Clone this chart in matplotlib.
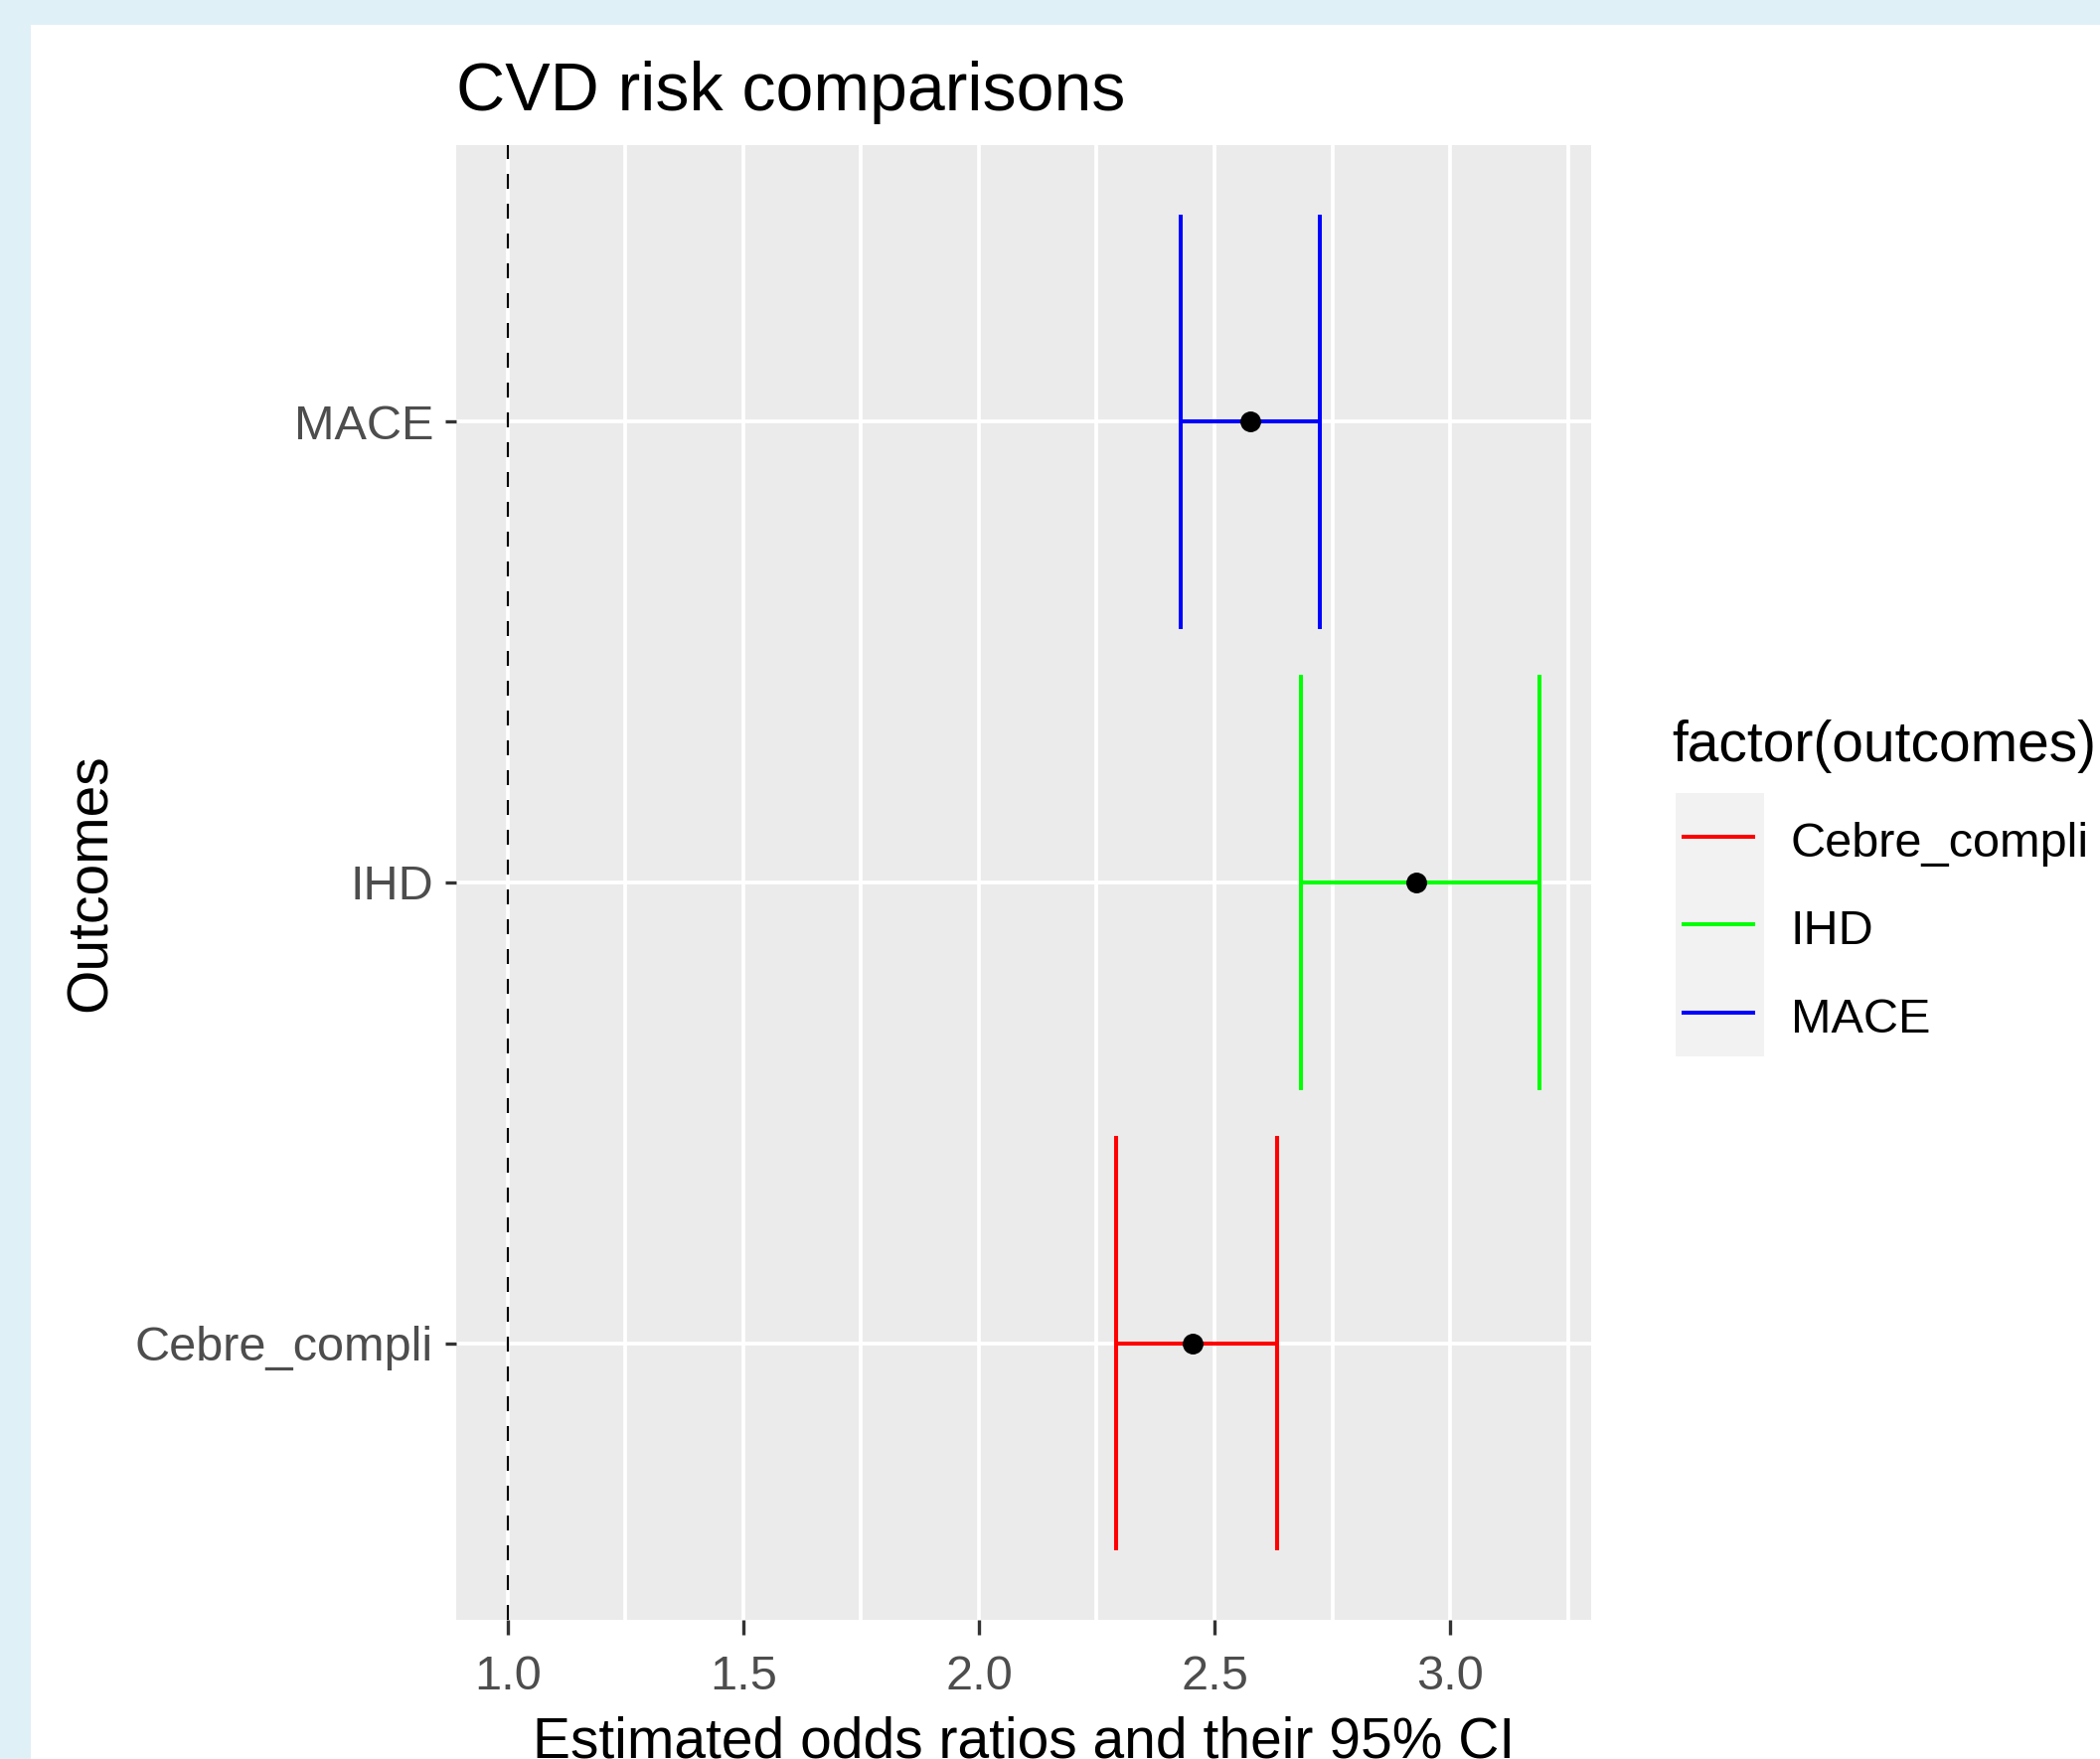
import matplotlib.pyplot as plt
from matplotlib.lines import Line2D
from matplotlib.patches import Rectangle
import numpy as np

# values
outcomes = ['Cebre_compli', 'IHD', 'MACE']
odds_ratio = [2.454, 2.928, 2.577]
ci_lower = [2.292, 2.683, 2.429]
ci_upper = [2.633, 3.190, 2.724]
outcome_colors = ['#FF0000', '#00FF00', '#0000FF']
x_ticks = [1.0, 1.5, 2.0, 2.5, 3.0]
x_tick_labels = ['1.0', '1.5', '2.0', '2.5', '3.0']

W, H = 2113, 1770
plt.rcParams['font.family'] = ['Liberation Sans', 'DejaVu Sans']


def fx(px):
    return px / W


def fy(py):
    return 1 - py / H


fig = plt.figure(figsize=(W / 100, H / 100), dpi=100, facecolor='#dff0f7')
fig.add_artist(Rectangle((fx(31), 0), 1 - fx(31), fy(25), transform=fig.transFigure,
                         facecolor='white', edgecolor='none', zorder=0))

ax = fig.add_axes([fx(459), fy(1630), fx(1601) - fx(459), fy(146) - fy(1630)])
ax.set_facecolor('#EBEBEB')
for s in ax.spines.values():
    s.set_visible(False)
ax.set_axisbelow(True)

# error bars, ggplot style (horizontal bar with tall end caps)
y = np.arange(1, len(outcomes) + 1)
half = 0.45
for yi, lo, hi, c in zip(y, ci_lower, ci_upper, outcome_colors):
    ax.hlines(yi, lo, hi, color=c, lw=2.9, zorder=3)
    ax.vlines([lo, hi], yi - half, yi + half, color=c, lw=2.9, zorder=3)
ax.plot(odds_ratio, y, 'o', color='black', ms=14, zorder=4)
ax.axvline(1.0, color='black', lw=1.6, dashes=(6.75, 6.75), zorder=2)

# limits with ggplot's default expansion
lo_x = min(1.0, min(ci_lower))
hi_x = max(ci_upper)
pad = 0.05 * (hi_x - lo_x)
ax.set_xlim(lo_x - pad, hi_x + pad)
ax.set_ylim(0.4, len(outcomes) + 0.6)

ax.set_xticks(x_ticks)
ax.set_xticklabels(x_tick_labels)
ax.set_xticks(np.array(x_ticks) + 0.25, minor=True)
ax.set_yticks(y)
ax.set_yticklabels(outcomes)

ax.grid(which='major', color='white', lw=2.7)
ax.grid(which='minor', axis='x', color='white', lw=2.7)
ax.tick_params(which='minor', length=0)
ax.tick_params(axis='x', which='major', length=11, width=2.4, color='#333333',
               labelsize=35, labelcolor='#4d4d4d', pad=14)
ax.tick_params(axis='y', which='major', length=8, width=2.4, color='#333333',
               labelsize=35, labelcolor='#4d4d4d', pad=8.5)

ax.set_title('CVD risk comparisons', loc='left', fontsize=49, pad=25)
ax.set_xlabel('Estimated odds ratios and their 95% CI', fontsize=41, labelpad=12)
ax.set_ylabel('Outcomes', fontsize=41, labelpad=12.5)

# legend
key_top, key_h = 798, 88.3
fig.add_artist(Rectangle((fx(1686), fy(key_top + key_h * len(outcomes))),
                         fx(1775) - fx(1686), key_h * len(outcomes) / H,
                         transform=fig.transFigure, facecolor='#F2F2F2',
                         edgecolor='none', zorder=1))
for i, (name, c) in enumerate(zip(outcomes, outcome_colors)):
    yc = key_top + key_h * (i + 0.5)
    fig.add_artist(Line2D([fx(1694), fx(1764)], [fy(yc), fy(yc)], color=c,
                          lw=2.9, transform=fig.transFigure, zorder=2))
    fig.text(fx(1802), fy(yc + 20), name, va='baseline', fontsize=35)
fig.text(fx(1682), fy(766), 'factor(outcomes)', va='baseline', fontsize=41)

fig.savefig('out.png', dpi=100, facecolor=fig.get_facecolor())
